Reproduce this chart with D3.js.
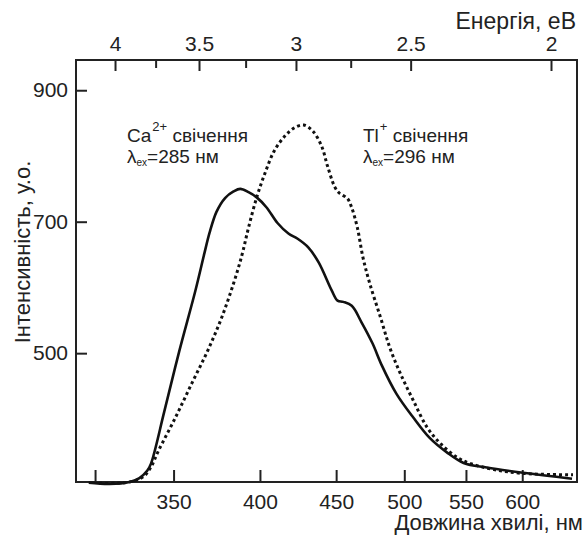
<!DOCTYPE html>
<html lang="uk">
<head><meta charset="UTF-8">
    <title>Спектри свічення</title>
    <style>
        body {
            margin: 0;
            background: #fff;
            font-family: "Liberation Sans", Arial, sans-serif;
        }
        .axis text { font-family: "Liberation Sans", Arial, sans-serif; fill: #222; }
        .axis line { stroke: #222; stroke-width: 2; }
        .axis .domain { display: none; }
    </style>
</head>
<body>

<script src="https://cdn.jsdelivr.net/npm/d3@7"></script>

<script>

    // tick values
    var waveTicks = [310, 350, 400, 450, 500, 550, 600];
    var energyTicks = [4, 3.5, 3, 2.5, 2];
    var energyMinor = [3.75, 3.25, 2.75];
    var intensityTicks = [500, 700, 900];

    // Ca2+ emission (solid)
    var caWave = [307, 317, 327, 332, 336, 338, 345, 353, 362, 367, 370, 374, 379, 384, 388, 393, 398, 404, 411, 418, 424, 431, 438, 447, 451, 455, 461, 468, 476, 483, 494, 507, 520, 534, 548, 568, 601, 648];
    var caInt  = [303, 301, 304, 310, 321, 332, 411, 502, 595, 651, 683, 715, 736, 746, 750, 745, 737, 722, 698, 682, 674, 661, 638, 595, 580, 578, 572, 547, 515, 481, 438, 402, 371, 349, 333, 326, 318, 309];

    // Tl+ emission (dotted)
    var tlWave = [312, 320, 327, 334, 338, 342, 351, 360, 369, 377, 384, 389, 393, 398, 403, 409, 416, 422, 428, 434, 440, 444, 449, 452, 458, 461, 465, 469, 474, 482, 489, 497, 507, 518, 529, 543, 554, 574, 601, 649];
    var tlInt  = [302, 302, 304, 312, 327, 352, 402, 454, 504, 554, 606, 649, 691, 737, 773, 808, 831, 843, 847, 838, 815, 785, 753, 744, 735, 721, 691, 646, 606, 554, 508, 469, 428, 387, 362, 341, 332, 323, 317, 315];

    var width = 585, height = 535;
    var padL = 76, padR = 577, padT = 60, padB = 482;

    var svg = d3.select("body").append("svg")
        .attr("width", width)
        .attr("height", height);

    var x = d3.scaleLog().domain([301, 653]).range([padL, padR]);
    var xTop = d3.scaleLog().domain([4.256, 1.919]).range([padL, padR]);
    var y = d3.scaleLinear().domain([304, 946]).range([padB, padT]);

    // bottom axis (wavelength)
    var xAxis = svg.append("g")
        .attr("class", "axis")
        .attr("transform", "translate(0," + padB + ")")
        .call(d3.axisBottom(x)
            .tickValues(waveTicks)
            .tickFormat(function(d) { return d === 310 ? "" : d; })
            .tickSize(-12)
            .tickPadding(12));
    xAxis.selectAll("text").style("font-size", "21px");

    // top axis (energy)
    var topAxis = svg.append("g")
        .attr("class", "axis")
        .attr("transform", "translate(0," + padT + ")")
        .call(d3.axisTop(xTop)
            .tickValues(energyTicks)
            .tickFormat(function(d) { return d; })
            .tickSize(-11)
            .tickPadding(9));
    topAxis.selectAll("text").style("font-size", "21px");

    svg.append("g")
        .attr("class", "axis")
        .attr("transform", "translate(0," + padT + ")")
        .call(d3.axisTop(xTop)
            .tickValues(energyMinor)
            .tickFormat("")
            .tickSize(-8));

    // left axis
    var yAxis = svg.append("g")
        .attr("class", "axis")
        .attr("transform", "translate(" + padL + ",0)")
        .call(d3.axisLeft(y)
            .tickValues(intensityTicks)
            .tickSize(-11)
            .tickPadding(8));
    yAxis.selectAll("text").style("font-size", "21px");

    // frame
    svg.append("rect")
        .attr("x", padL)
        .attr("y", padT)
        .attr("width", padR - padL)
        .attr("height", padB - padT)
        .attr("fill", "none")
        .attr("stroke", "#222")
        .attr("stroke-width", 2);

    // curves
    var line = d3.line()
        .x(function(d) { return x(d[0]); })
        .y(function(d) { return y(d[1]); })
        .curve(d3.curveCatmullRom);

    svg.append("path")
        .datum(d3.zip(tlWave, tlInt))
        .attr("d", line)
        .attr("fill", "none")
        .attr("stroke", "#111")
        .attr("stroke-width", 3)
        .attr("stroke-dasharray", "3,3");

    svg.append("path")
        .datum(d3.zip(caWave, caInt))
        .attr("d", line)
        .attr("fill", "none")
        .attr("stroke", "#111")
        .attr("stroke-width", 2.6);

    // axis titles
    svg.append("text")
        .attr("x", 576)
        .attr("y", 29)
        .attr("text-anchor", "end")
        .style("font-size", "23px")
        .attr("fill", "#222")
        .text("Енергія, еВ");

    svg.append("text")
        .attr("x", 583)
        .attr("y", 530)
        .attr("text-anchor", "end")
        .style("font-size", "22px")
        .attr("fill", "#222")
        .text("Довжина хвилі, нм");

    svg.append("text")
        .attr("transform", "translate(30,252) rotate(-90)")
        .attr("text-anchor", "middle")
        .style("font-size", "22px")
        .attr("fill", "#222")
        .text("Інтенсивність, у.о.");

    // annotations
    function label(x0, ion, sup, lam) {
        var t = svg.append("text")
            .attr("x", x0)
            .attr("y", 142)
            .style("font-size", "19px")
            .attr("fill", "#222");
        t.append("tspan").text(ion);
        t.append("tspan").attr("dx", 1).attr("dy", -11).style("font-size", "13px").text(sup);
        t.append("tspan").attr("dy", 11).text(" свічення");

        var t2 = svg.append("text")
            .attr("x", x0)
            .attr("y", 163)
            .style("font-size", "19px")
            .attr("fill", "#222");
        t2.append("tspan").text("λ");
        t2.append("tspan").attr("dy", 3).style("font-size", "10px").text("ex");
        t2.append("tspan").attr("dy", -3).text("=" + lam + " нм");
    }

    label(127, "Ca", "2+", 285);
    label(363, "Tl", "+", 296);

</script>

</body></html>
